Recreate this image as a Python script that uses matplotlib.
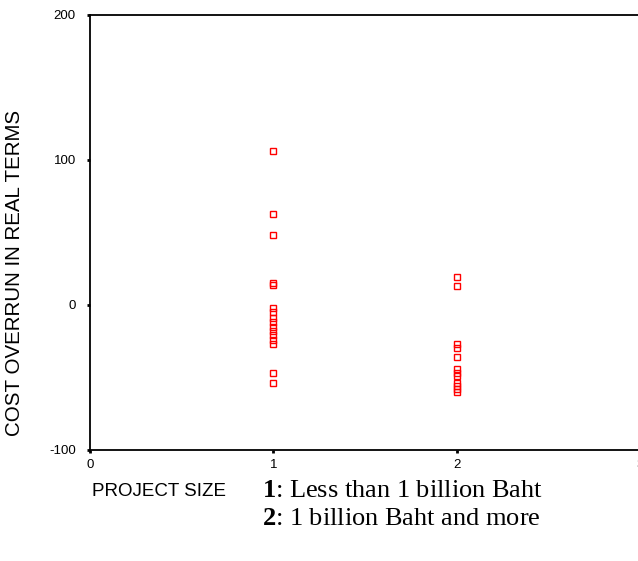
import matplotlib
matplotlib.use("Agg")
import matplotlib.pyplot as plt

plt.rcParams['font.family'] = ['Liberation Sans', 'DejaVu Sans']
plt.rcParams['axes.unicode_minus'] = False
plt.rcParams['mathtext.fontset'] = 'custom'
plt.rcParams['mathtext.rm'] = 'Liberation Serif'
plt.rcParams['mathtext.bf'] = 'Liberation Serif:bold'

# cost overrun (%) by project size group
small_projects = [106, 63, 48, 15, 14, -2, -5, -9, -12, -15, -18, -21, -24, -27, -47, -54]
large_projects = [19, 13, -27, -30, -36, -44, -47, -49, -54, -56, -58, -60]
size_codes = [1, 2]
x_ticks = [0, 1, 2, 3]
y_ticks = [-100, 0, 100, 200]
legend_lines = [r"$\mathbf{1}$: Less than 1 billion Baht",
                r"$\mathbf{2}$: 1 billion Baht and more"]

fig = plt.figure(figsize=(6.38, 5.61), dpi=100)
ax = fig.add_axes([90 / 638, 1 - 450 / 561, 550 / 638, 435 / 561])

for code, vals in zip(size_codes, [small_projects, large_projects]):
    ax.plot([code] * len(vals), vals, linestyle='none', marker='s', markersize=4.3,
            markerfacecolor='none', markeredgecolor='#ff0000', markeredgewidth=1.0)

ax.set_xlim(0, 3)
ax.set_ylim(-100, 200)
ax.set_xticks(x_ticks)
ax.set_yticks(y_ticks)
ax.tick_params(axis='both', direction='out', length=2.2, width=2.0, color='black',
               labelsize=9.5)
ax.tick_params(axis='y', pad=8)
ax.tick_params(axis='x', pad=4)

for side in ['left', 'bottom', 'top', 'right']:
    ax.spines[side].set_linewidth(1.3)

# axis title sits a little below the middle of the plot area
fig.text(15 / 638, 1 - 273 / 561, "COST OVERRUN IN REAL TERMS", fontsize=14.8,
         rotation=90, va='center', ha='center')

fig.text(92 / 638, 1 - 491 / 561, "PROJECT SIZE", fontsize=13.5, va='center', ha='left')
fig.text(262 / 638, 1 - 491 / 561, legend_lines[0], fontsize=19,
         family='Liberation Serif', va='center', ha='left')
fig.text(262 / 638, 1 - 519 / 561, legend_lines[1], fontsize=19,
         family='Liberation Serif', va='center', ha='left')

fig.savefig("out.png", dpi=100)
